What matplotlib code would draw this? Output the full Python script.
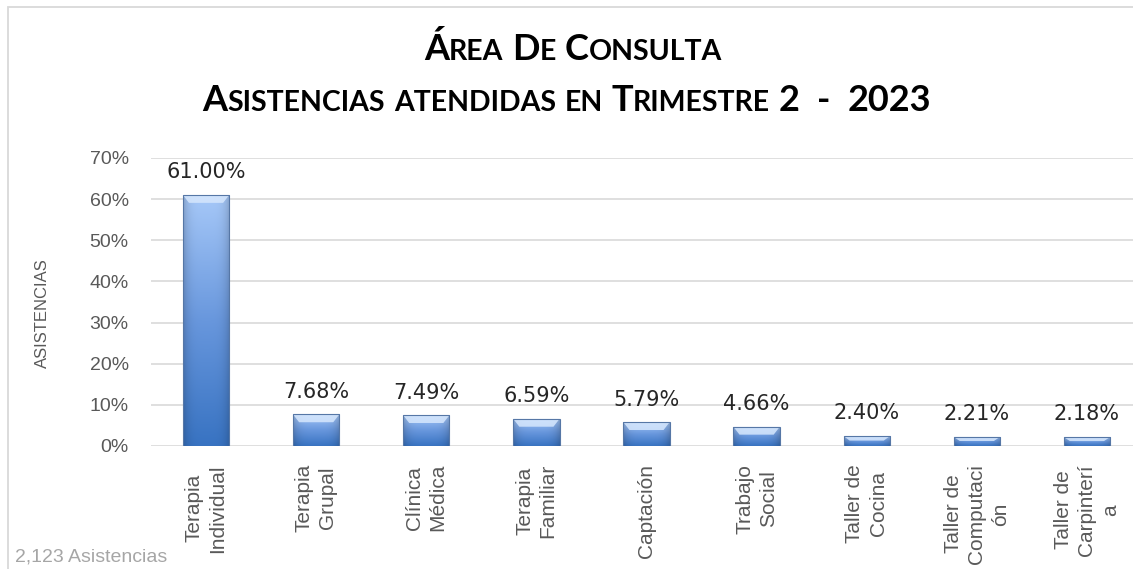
import matplotlib
matplotlib.use('Agg')
import matplotlib.pyplot as plt
import numpy as np
import matplotlib.colors as mcolors
from matplotlib.patches import Rectangle, Polygon
from matplotlib.transforms import IdentityTransform

# ---------------- data ----------------
categories = ["Terapia\nIndividual", "Terapia\nGrupal", "Clínica\nMédica",
              "Terapia\nFamiliar", "Captación", "Trabajo\nSocial",
              "Taller de\nCocina", "Taller de\nComputaci\nón",
              "Taller de\nCarpinterí\na"]
values = [61.00, 7.68, 7.49, 6.59, 5.79, 4.66, 2.40, 2.21, 2.18]
y_ticks = [0, 10, 20, 30, 40, 50, 60, 70]
title_line1 = "Área De Consulta"
title_line2 = "Asistencias atendidas en Trimestre 2  -  2023"
y_label = "ASISTENCIAS"
footnote = "2,123 Asistencias"

W, H = 1133, 569
fig = plt.figure(figsize=(W / 100, H / 100), dpi=100)
fig.patch.set_facecolor('white')

# outer chart border (cropped on right / bottom)
fig.patches.append(Rectangle((8 / W, -0.05), 1.2, (1 - 7 / H) + 0.05,
                             transform=fig.transFigure, fill=False,
                             edgecolor='#d9d9d9', lw=1.3))

# ---------------- axes ----------------
ax_left, ax_right = 151, 1142
ax_top, ax_bottom = 158, 446
ax = fig.add_axes([ax_left / W, 1 - ax_bottom / H, (ax_right - ax_left) / W,
                   (ax_bottom - ax_top) / H])
ax.set_xlim(-0.5, len(categories) - 0.5)
ax.set_ylim(0, 70)
for s in ax.spines.values():
    s.set_visible(False)
ax.set_yticks(y_ticks)
ax.set_yticklabels([f"{t}%" for t in y_ticks], fontsize=14,
                   family='Liberation Sans', color='#595959')
ax.yaxis.grid(True, color='#d9d9d9', lw=1.2, zorder=0)
ax.set_axisbelow(True)
ax.tick_params(axis='y', length=0, pad=16)
ax.tick_params(axis='x', length=0, pad=13)

x = np.arange(len(categories))
ax.set_xticks(x)
ax.set_xticklabels(categories, rotation=90, ha='center', va='top',
                   multialignment='center', linespacing=1.3, fontsize=15,
                   family='Liberation Sans', color='#595959')

bw = 0.42
bars = ax.bar(x, values, width=bw, color='#5b8fd6', edgecolor='none', zorder=2)

# gradient fill for bars
cmap = mcolors.LinearSegmentedColormap.from_list(
    'bar', ['#3873c2', '#6897dd', '#a6c8f8'])
ny, nx = 200, 60
ty = np.linspace(0, 1, ny)[:, None]
ux = np.linspace(-1, 1, nx)[None, :]
base = cmap(np.broadcast_to(ty, (ny, nx)))[..., :3]
shade = 1 - 0.18 * np.abs(ux) ** 4
img = np.clip(base * shade[..., None], 0, 1)

for b, v in zip(bars, values):
    x0 = b.get_x()
    x1 = x0 + b.get_width()
    im = ax.imshow(img, extent=(x0, x1, 0, v), origin='lower',
                   aspect='auto', zorder=2.1, interpolation='bilinear')
    im.set_clip_path(b)
    # top bevel
    dv = min(1.9, v * 0.45)
    dx = 0.055
    ax.add_patch(Polygon([(x0, v), (x1, v), (x1 - dx, v - dv), (x0 + dx, v - dv)],
                         closed=True, facecolor='#d6e7fd', edgecolor='none',
                         alpha=0.85, zorder=2.2))
    ax.add_patch(Rectangle((x0, 0), x1 - x0, v, fill=False,
                           edgecolor='#5677a6', lw=0.8, zorder=2.3))
    ax.annotate(f"{v:.2f}%", (b.get_x() + b.get_width() / 2, v),
                xytext=(0, 12), textcoords='offset points', ha='center',
                va='baseline', fontsize=15, family='DejaVu Sans',
                color='#262626', zorder=3)

ax.set_xlim(-0.5, len(categories) - 0.5)
ax.set_ylim(0, 70)

# ---------------- texts ----------------
fig.text(42 / W, 1 - 313 / H, y_label, rotation=90, ha='center', va='center',
         fontsize=12, family='Liberation Sans', color='#595959')
fig.text(15 / W, 1 - 562 / H, footnote, ha='left', va='baseline',
         fontsize=14, family='Liberation Sans', color='#a6a6a6')

renderer = fig.canvas.get_renderer()


def small_caps(s, xc_px, base_px, big, small, family='Lato', weight='bold'):
    """Draw s in small capitals, centred at xc_px, baseline at base_px (from top)."""
    runs = []
    for ch in s:
        if ch == ' ':
            runs.append((' ', None))
            continue
        size = small if ch.islower() else big
        c = ch.upper()
        if runs and runs[-1][1] == size:
            runs[-1] = (runs[-1][0] + c, size)
        else:
            runs.append((c, size))
    y = H - base_px
    cur = 0.0
    texts = []
    for txt, size in runs:
        if size is None:
            cur += 0.24 * big * 100 / 72
            continue
        t = fig.text(0, 0, txt, transform=IdentityTransform(), ha='left',
                     va='baseline', fontsize=size, family=family,
                     weight=weight, color='black')
        t.set_position((cur, y))
        w = t.get_window_extent(renderer).width
        texts.append((t, cur))
        cur += w
    off = xc_px - cur / 2
    for t, pos in texts:
        t.set_position((pos + off, y))


small_caps(title_line1, 573, 60, 26, 20.5)
small_caps(title_line2, 567, 111, 26, 20.5)

fig.savefig('out.png', dpi=100)
